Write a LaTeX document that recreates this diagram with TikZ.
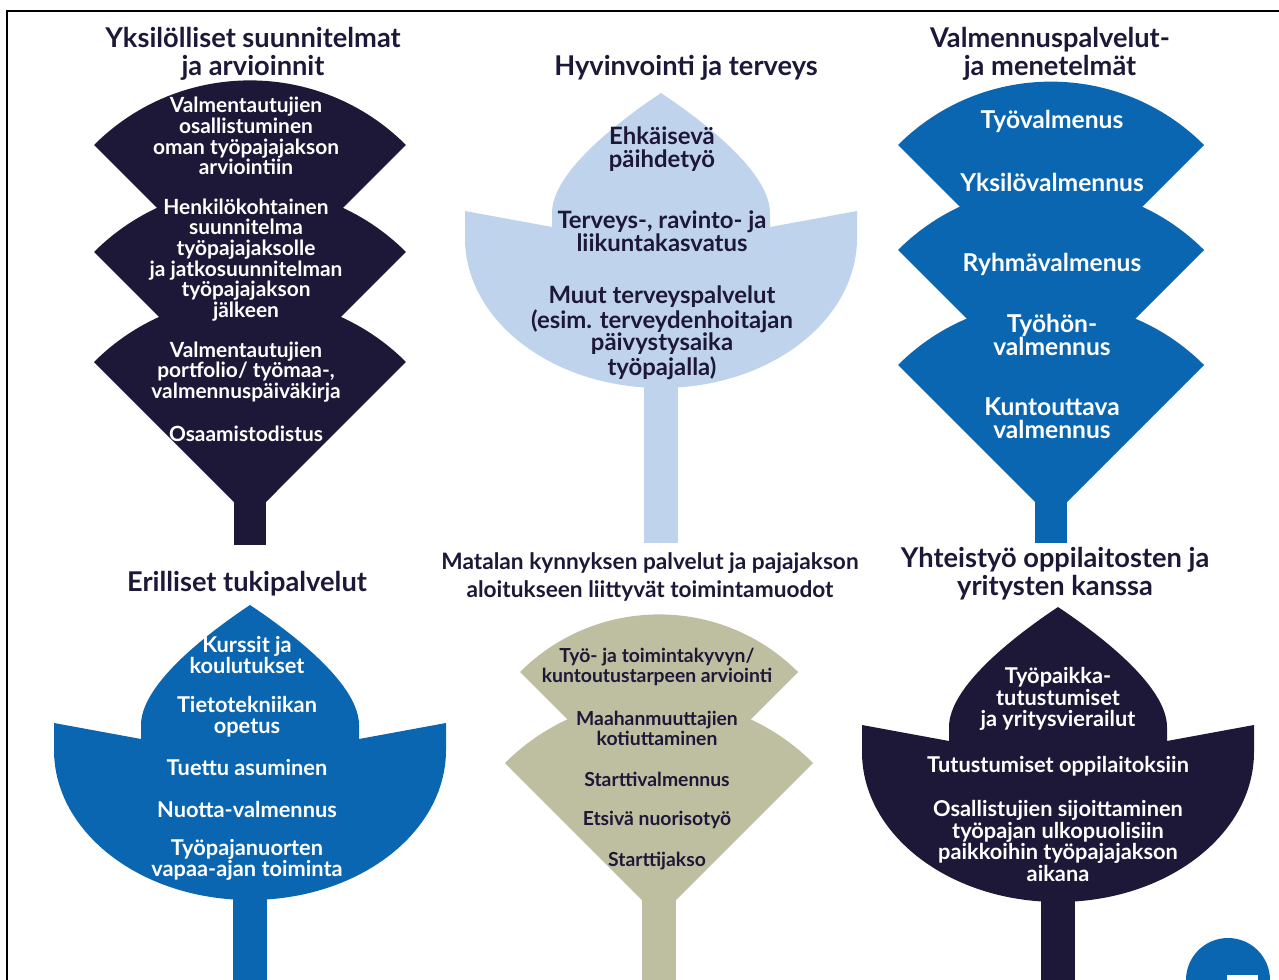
\documentclass[tikz,border=0pt]{standalone}
\usepackage{fontspec}
\setmainfont{Lato}
\usepackage{tikz}
\usetikzlibrary{positioning}
\definecolor{navy}{RGB}{30,24,56}
\definecolor{leafblue}{RGB}{10,102,176}
\definecolor{paleblue}{RGB}{191,212,236}
\definecolor{olive}{RGB}{190,190,160}

\begin{document}
\begin{tikzpicture}[x=0.02cm,y=-0.02cm,
  title/.style={font=\bfseries\fontsize{15.5}{16}\selectfont, text=navy, align=center, inner sep=0pt},
  item/.style={text=white, align=center, inner sep=0pt},
  darkitem/.style={item, text=navy}]
\useasboundingbox (0,0) rectangle (1279,980);
\clip (0,0) rectangle (1279,980);
% Frame
\draw[line width=1.7pt] (7,11) rectangle (1300,1000);

% Stacked fans (top left, top right)
\foreach \t in {145,252,362}
  \fill[navy] (94,\t) arc[start angle=225,end angle=315,radius=220.6] -- (250,\t+156) -- cycle;
\fill[navy] (234,480) rectangle (266,545);
\foreach \t in {145,250,365}
  \fill[leafblue] (898,\t) arc[start angle=225,end angle=315,radius=216.4] -- (1051,\t+153) -- cycle;
\fill[leafblue] (1035,480) rectangle (1067,543);

% Two-tier fan (bottom middle)
\fill[olive] (505,763) arc[start angle=225,end angle=315,radius=217.8] -- (659,917) -- cycle;
\fill[olive] (520,672) arc[start angle=225,end angle=315,radius=196.6] -- (659,811) -- cycle;
\fill[olive] (642,880) rectangle (676,985);

% Tulips
\foreach \cx/\T/\col/\sb in {661/93/paleblue/543, 250/605/leafblue/985, 1058/607/navy/985} {
  \fill[\col] (\cx,\T) .. controls (\cx-45,\T+30) and (\cx-109,\T+80) .. (\cx-109,\T+120)
    -- (\cx-109,\T+134) -- (\cx-196,\T+118) -- (\cx-196,\T+145)
    .. controls (\cx-196,\T+228) and (\cx-108,\T+295) .. (\cx,\T+295)
    .. controls (\cx+108,\T+295) and (\cx+196,\T+228) .. (\cx+196,\T+145)
    -- (\cx+196,\T+118) -- (\cx+109,\T+134) -- (\cx+109,\T+120)
    .. controls (\cx+109,\T+80) and (\cx+45,\T+30) .. (\cx,\T) -- cycle;
  \fill[\col] (\cx-17,\T+280) rectangle (\cx+17,\sb);
}

% Corner mark
\fill[leafblue] (1228,980) circle[radius=42];
\fill[white] (1227,975) rectangle (1258,985);

% Titles
\node[title] (tplan) at (253,54) {Yksilölliset suunnitelmat\\ja arvioinnit};
\node[title] (thealth) at (686,68) {Hyvinvointi ja terveys};
\node[title] (tcoach) at (1050,54) {Valmennuspalvelut-\\ja menetelmät};
\node[title] (tsupport) at (247,584) {Erilliset tukipalvelut};
\node[title, font=\bfseries\fontsize{12.9}{15.4}\selectfont] (tlow) at (650,577) {Matalan kynnyksen palvelut ja pajajakson\\aloitukseen liittyvät toimintamuodot};
\node[title] (tcoop) at (1055,574) {Yhteistyö oppilaitosten ja\\yritysten kanssa};

% Items, top left
\begin{scope}[nodes={item, font=\bfseries\fontsize{11.9}{11.8}\selectfont}]
\node (plana) at (246,136) {Valmentautujien\\osallistuminen\\oman työpajajakson\\arviointiin};
\node (planb) at (246,260) {Henkilökohtainen\\suunnitelma\\työpajajaksolle\\ja jatkosuunnitelman\\työpajajakson\\jälkeen};
\node (planc) at (246,372) {Valmentautujien\\portfolio/ työmaa-,\\valmennuspäiväkirja};
\node (pland) at (246,434) {Osaamistodistus};
\end{scope}

% Items, top middle
\begin{scope}[nodes={darkitem, font=\bfseries\fontsize{13.6}{12.8}\selectfont}]
\node (healtha) at (662,149) {Ehkäisevä\\päihdetyö};
\node (healthb) at (662,231) {Terveys-, ravinto- ja\\liikuntakasvatus};
\node (healthc) at (662,333) {Muut terveyspalvelut\\(esim. terveydenhoitajan\\päivystysaika\\työpajalla)};
\end{scope}

% Items, top right
\begin{scope}[nodes={item, font=\bfseries\fontsize{14}{13}\selectfont}]
\node (coacha) at (1052,121) {Työvalmenus};
\node (coachb) at (1052,182) {Yksilövalmennus};
\node (coachc) at (1052,264) {Ryhmävalmenus};
\node (coachd) at (1052,335) {Työhön-\\valmennus};
\node (coache) at (1052,418) {Kuntouttava\\valmennus};
\end{scope}

% Items, bottom left
\begin{scope}[nodes={item, font=\bfseries\fontsize{12.4}{11.9}\selectfont}]
\node (supa) at (247,655) {Kurssit ja\\koulutukset};
\node (supb) at (247,717) {Tietotekniikan\\opetus};
\node (supc) at (247,768) {Tuettu asuminen};
\node (supd) at (247,809) {Nuotta-valmennus};
\node (supe) at (247,860) {Työpajanuorten\\vapaa-ajan toiminta};
\end{scope}

% Items, bottom middle
\begin{scope}[nodes={darkitem, font=\bfseries\fontsize{11}{11.4}\selectfont}]
\node (lowa) at (657,667) {Työ- ja toimintakyvyn/\\kuntoutustarpeen arviointi};
\node (lowb) at (657,728) {Maahanmuuttajien\\kotiuttaminen};
\node (lowc) at (657,779) {Starttivalmennus};
\node (lowd) at (657,820) {Etsivä nuorisotyö};
\node (lowe) at (657,861) {Starttijakso};
\end{scope}

% Items, bottom right
\begin{scope}[nodes={item, font=\bfseries\fontsize{12.4}{12.4}\selectfont}]
\node (coopa) at (1058,699) {Työpaikka-\\tutustumiset\\ja yritysvierailut};
\node (coopb) at (1058,766) {Tutustumiset oppilaitoksiin};
\node (coopc) at (1058,841) {Osallistujien sijoittaminen\\työpajan ulkopuolisiin\\paikkoihin työpajajakson\\aikana};
\end{scope}
\end{tikzpicture}
\end{document}
